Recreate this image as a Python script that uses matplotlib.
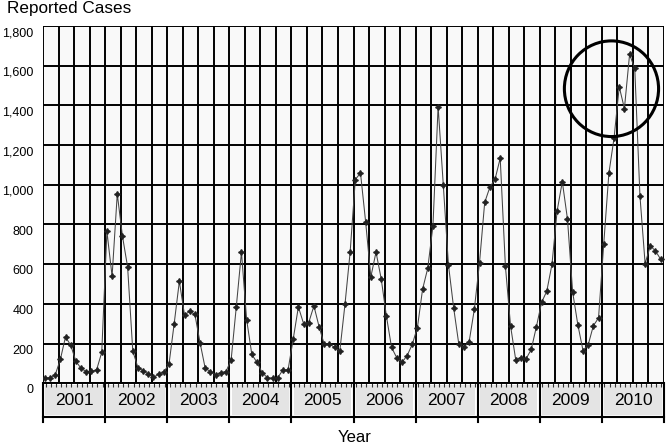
import numpy as np
import matplotlib
matplotlib.use("Agg")
import matplotlib.pyplot as plt
from matplotlib.patches import Rectangle, Ellipse
from matplotlib.transforms import blended_transform_factory, ScaledTranslation

plt.rcParams['font.family'] = ['Liberation Sans', 'DejaVu Sans']

# Monthly reported cases, Jan 2001 - Dec 2010
years = ['2001', '2002', '2003', '2004', '2005', '2006', '2007', '2008', '2009', '2010']
cases_2001 = [25, 28, 42, 120, 234, 192, 112, 75, 59, 60, 67, 156]
cases_2002 = [765, 539, 954, 742, 586, 162, 79, 64, 47, 30, 47, 57]
cases_2003 = [97, 301, 514, 343, 363, 347, 204, 75, 59, 42, 54, 59]
cases_2004 = [117, 385, 661, 321, 146, 105, 54, 28, 25, 28, 67, 67]
cases_2005 = [223, 385, 301, 306, 390, 285, 196, 198, 181, 162, 397, 661]
cases_2006 = [1026, 1060, 812, 536, 661, 527, 340, 181, 129, 105, 139, 196]
cases_2007 = [281, 474, 580, 793, 1394, 1000, 596, 381, 197, 181, 210, 373]
cases_2008 = [608, 911, 988, 1028, 1134, 591, 289, 118, 129, 123, 171, 286]
cases_2009 = [408, 464, 599, 869, 1016, 827, 459, 295, 165, 194, 290, 329]
cases_2010 = [700, 1058, 1236, 1494, 1384, 1657, 1586, 945, 603, 692, 667, 625]

cases = (cases_2001 + cases_2002 + cases_2003 + cases_2004 + cases_2005 +
         cases_2006 + cases_2007 + cases_2008 + cases_2009 + cases_2010)
months = np.arange(len(cases))

fig = plt.figure(figsize=(6.66, 4.45), dpi=100)
ax = fig.add_axes([43 / 666, 1 - 383.3 / 445, 621 / 666, 357.3 / 445])
ax.set_facecolor('#f9f9f9')

x0 = -0.35
ax.set_xlim(x0, x0 + 120)
ax.set_ylim(0, 1800)

# grid: every 200 cases, every 3 months
for v in range(0, 1801, 200):
    ax.axhline(v, color='black', lw=1.4, zorder=1)
for k in range(0, 41):
    ax.axvline(x0 + 3 * k, color='black', lw=1.4, zorder=1)

ax.plot(months, cases, color='#444444', lw=0.75, marker=(4, 1, 0),
        markersize=4.2, markerfacecolor='#222222', markeredgecolor='#222222', zorder=3)

# highlight circle around 2010 peak
ax.add_patch(Ellipse((109.5, 1484), 18.2, 482, fill=False, edgecolor='black',
                     lw=2.2, zorder=4, clip_on=False))

for s in ax.spines.values():
    s.set_visible(False)

ax.set_yticks(range(0, 1801, 200))
ax.set_yticklabels([f'{v:,}' for v in range(0, 1801, 200)], fontsize=9)
ax.tick_params(axis='y', length=0, pad=7)
for lbl in ax.get_yticklabels():
    lbl.set_transform(lbl.get_transform() + ScaledTranslation(0, -4 / 72, fig.dpi_scale_trans))

# monthly tick marks along the bottom
ax.set_xticks(months + 0.15)
ax.set_xticklabels([])
ax.tick_params(axis='x', length=3, width=0.8, color='#333333', direction='out')

# category axis with year boxes
trans = blended_transform_factory(ax.transData, ax.transAxes)
for i, yr in enumerate(years):
    left = x0 + 12 * i
    ax.add_patch(Rectangle((left + 0.45, -0.088), 12 - 0.9, 0.082, transform=trans,
                           facecolor='#e4e4e4', edgecolor='none', clip_on=False))
    ax.text(left + 6, -0.047, yr, transform=trans, ha='center', va='center',
            fontsize=12.5, clip_on=False)
for i in range(len(years) + 1):
    ax.plot([x0 + 12 * i] * 2, [-0.108, 0], transform=trans, color='black',
            lw=1.5, clip_on=False)
ax.plot([x0, x0 + 120], [-0.094, -0.094], transform=trans, color='black',
        lw=1.5, clip_on=False)
ax.plot([x0, x0 + 120], [0, 0], transform=trans, color='black', lw=1.4, clip_on=False)

fig.text(7 / 666, 1 - 9 / 445, 'Reported Cases', ha='left', va='center', fontsize=12.3)
fig.text(355 / 666, 1 - 437 / 445, 'Year', ha='center', va='center', fontsize=12)

fig.savefig('out.png', dpi=100)
